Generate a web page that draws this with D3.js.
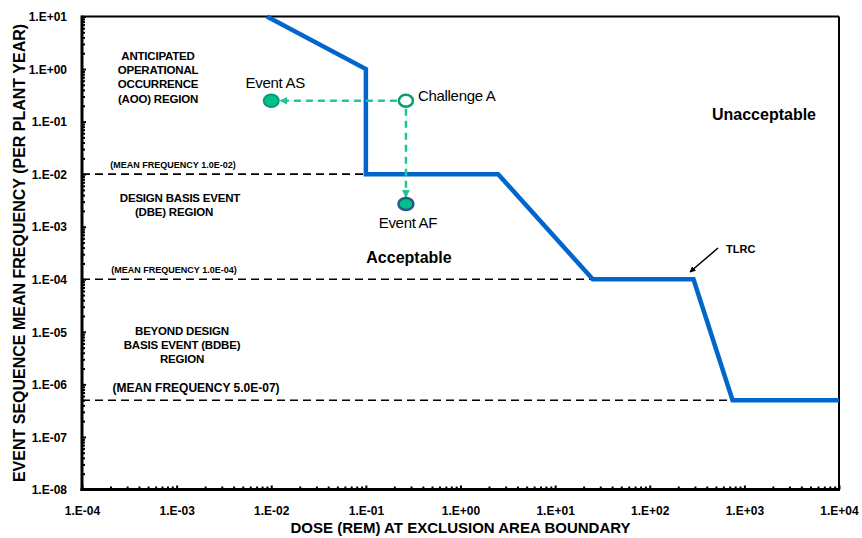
<!DOCTYPE html>
<html>
<head>
<meta charset="utf-8">
<script src="https://cdn.jsdelivr.net/npm/d3@7"></script>
<style>
  html, body { margin: 0; padding: 0; background: #fff; }
  svg { display: block; font-family: "Liberation Sans", Arial, sans-serif; }
</style>
</head>
<body>
<svg id="chart" width="862" height="538"></svg>
<script>
// Axis decades and their labels
const xTickValues = [1e-4, 1e-3, 1e-2, 1e-1, 1e0, 1e1, 1e2, 1e3, 1e4];
const xTickLabels = ["1.E-04", "1.E-03", "1.E-02", "1.E-01", "1.E+00", "1.E+01", "1.E+02", "1.E+03", "1.E+04"];
const yTickValues = [1e1, 1e0, 1e-1, 1e-2, 1e-3, 1e-4, 1e-5, 1e-6, 1e-7, 1e-8];
const yTickLabels = ["1.E+01", "1.E+00", "1.E-01", "1.E-02", "1.E-03", "1.E-04", "1.E-05", "1.E-06", "1.E-07", "1.E-08"];

// Top level regulatory criterion (dose in rem, frequency per plant-year)
const tlrcDose = [0.009, 0.1, 0.1, 2.5, 25, 290, 750, 1e4];
const tlrcFreq = [10, 1, 1e-2, 1e-2, 1e-4, 1e-4, 5e-7, 5e-7];

// Region boundaries (mean frequency) and how far each dashed line runs
const boundaryFreq = [1e-2, 1e-4, 5e-7];
const boundaryEndDose = [0.1, 25, 750];
const boundaryLabels = ["(MEAN FREQUENCY 1.0E-02)", "(MEAN FREQUENCY 1.0E-04)", "(MEAN FREQUENCY 5.0E-07)"];

// Events
const eventNames = ["Event AS", "Challenge A", "Event AF"];
const eventDose = [0.01, 0.265, 0.265];
const eventFreq = [0.25, 0.25, 0.0027];

const svg = d3.select("#chart");
const W = 862, H = 538;
const plotL = 82, plotR = 839, plotT = 16.5, plotB = 489.5;

svg.append("rect").attr("width", W).attr("height", H).attr("fill", "#fff");

const x = d3.scaleLog().domain([1e-4, 1e4]).range([plotL, plotR]);
const y = d3.scaleLog().domain([1e-8, 1e1]).range([plotB, plotT]);

// Minor tick positions (2..9 within each decade)
const minorX = [], minorY = [];
for (let e = -4; e < 4; e++) for (let m = 2; m <= 9; m++) minorX.push(m * Math.pow(10, e));
for (let e = -8; e < 1; e++) for (let m = 2; m <= 9; m++) minorY.push(m * Math.pow(10, e));

const xAxisMinor = d3.axisBottom(x).tickValues(minorX).tickSize(-3).tickFormat("");
const yAxisMinor = d3.axisLeft(y).tickValues(minorY).tickSize(-3).tickFormat("");
const xAxisMajor = d3.axisBottom(x).tickValues(xTickValues).tickSize(-4).tickPadding(17)
  .tickFormat((d, i) => xTickLabels[i]);
const yAxisMajor = d3.axisLeft(y).tickValues(yTickValues).tickSize(-4).tickPadding(15)
  .tickFormat((d, i) => yTickLabels[i]);

function styleAxis(g) {
  g.select(".domain").remove();
  g.selectAll(".tick line").attr("stroke", "#000").attr("stroke-width", 2);
  g.selectAll(".tick text").attr("fill", "#000").attr("font-size", 12).attr("font-weight", "bold")
    .attr("font-family", "Liberation Sans, Arial, sans-serif");
}

svg.append("g").attr("transform", `translate(0,${plotB})`).call(xAxisMinor).call(styleAxis);
svg.append("g").attr("transform", `translate(${plotL},0)`).call(yAxisMinor).call(styleAxis);
svg.append("g").attr("transform", `translate(0,${plotB})`).call(xAxisMajor).call(styleAxis);
const gy = svg.append("g").attr("transform", `translate(${plotL},0)`).call(yAxisMajor).call(styleAxis);
gy.selectAll(".tick text").attr("dy", "0.35em");

// Plot frame
svg.append("line").attr("x1", plotL).attr("x2", plotR).attr("y1", plotT).attr("y2", plotT)
  .attr("stroke", "#000").attr("stroke-width", 2);
svg.append("line").attr("x1", plotR).attr("x2", plotR).attr("y1", plotT).attr("y2", plotB)
  .attr("stroke", "#000").attr("stroke-width", 2);
svg.append("line").attr("x1", plotL).attr("x2", plotL).attr("y1", plotT - 1).attr("y2", plotB + 1.5)
  .attr("stroke", "#000").attr("stroke-width", 3);
svg.append("line").attr("x1", plotL - 1.5).attr("x2", plotR + 1).attr("y1", plotB).attr("y2", plotB)
  .attr("stroke", "#000").attr("stroke-width", 3);

// Axis titles
svg.append("text").attr("x", (plotL + plotR) / 2).attr("y", 533).attr("text-anchor", "middle")
  .attr("font-size", 15).attr("font-weight", "bold").text("DOSE (REM) AT EXCLUSION AREA BOUNDARY");
svg.append("text").attr("transform", `translate(25,${(plotT + plotB) / 2}) rotate(-90)`)
  .attr("text-anchor", "middle").attr("font-size", 16).attr("font-weight", "bold")
  .text("EVENT SEQUENCE MEAN FREQUENCY (PER PLANT YEAR)");

// Dashed region boundaries
boundaryFreq.forEach((f, i) => {
  svg.append("line")
    .attr("x1", x(1e-4)).attr("x2", x(boundaryEndDose[i]))
    .attr("y1", y(f)).attr("y2", y(f))
    .attr("stroke", "#000").attr("stroke-width", 1.6).attr("stroke-dasharray", "8,5");
});

// Region labels
svg.append("text").attr("x", 173).attr("y", y(boundaryFreq[0]) - 6).attr("text-anchor", "middle")
  .attr("font-size", 9).attr("font-weight", "bold").text(boundaryLabels[0]);
svg.append("text").attr("x", 174).attr("y", y(boundaryFreq[1]) - 6).attr("text-anchor", "middle")
  .attr("font-size", 9).attr("font-weight", "bold").text(boundaryLabels[1]);
svg.append("text").attr("x", 196).attr("y", 392).attr("text-anchor", "middle")
  .attr("font-size", 12).attr("font-weight", "bold").text(boundaryLabels[2]);

function block(lines, cx, y0, dy) {
  lines.forEach((t, i) => {
    svg.append("text").attr("x", cx).attr("y", y0 + i * dy).attr("text-anchor", "middle")
      .attr("font-size", 11.5).attr("font-weight", "bold").attr("letter-spacing", -0.2).text(t);
  });
}
block(["ANTICIPATED", "OPERATIONAL", "OCCURRENCE", "(AOO) REGION"], 158, 60, 14.2);
svg.append("text").attr("x", 180).attr("y", 202).attr("text-anchor", "middle")
  .attr("font-size", 11.5).attr("font-weight", "bold").attr("letter-spacing", -0.2).text("DESIGN BASIS EVENT");
svg.append("text").attr("x", 174).attr("y", 216).attr("text-anchor", "middle")
  .attr("font-size", 11.5).attr("font-weight", "bold").attr("letter-spacing", -0.2).text("(DBE) REGION");
block(["BEYOND DESIGN", "BASIS EVENT (BDBE)", "REGION"], 182, 335, 14.2);

// TLRC curve
const line = d3.line().x(d => x(d[0])).y(d => y(d[1]));
svg.append("path")
  .datum(tlrcDose.map((d, i) => [d, tlrcFreq[i]]))
  .attr("d", line).attr("fill", "none").attr("stroke", "#0066CC")
  .attr("stroke-width", 4.5).attr("stroke-linejoin", "miter");

svg.append("text").attr("x", 409).attr("y", 263).attr("text-anchor", "middle")
  .attr("font-size", 16).attr("font-weight", "bold").text("Acceptable");
svg.append("text").attr("x", 764).attr("y", 120).attr("text-anchor", "middle")
  .attr("font-size", 16).attr("font-weight", "bold").text("Unacceptable");

// Arrowheads
const defs = svg.append("defs");
defs.append("marker").attr("id", "blackHead").attr("viewBox", "0 0 10 10")
  .attr("refX", 9).attr("refY", 5).attr("markerWidth", 6).attr("markerHeight", 6)
  .attr("markerUnits", "userSpaceOnUse").attr("orient", "auto")
  .append("path").attr("d", "M0,0 L10,5 L0,10 Z").attr("fill", "#000");
defs.append("marker").attr("id", "greenHead").attr("viewBox", "0 0 10 10")
  .attr("refX", 9).attr("refY", 5).attr("markerWidth", 8).attr("markerHeight", 8)
  .attr("markerUnits", "userSpaceOnUse").attr("orient", "auto")
  .append("path").attr("d", "M0,0 L10,5 L0,10 Z").attr("fill", "#1FC796");

// TLRC callout
svg.append("line").attr("x1", 718).attr("y1", 248).attr("x2", 690).attr("y2", 272)
  .attr("stroke", "#000").attr("stroke-width", 1.5).attr("marker-end", "url(#blackHead)");
svg.append("text").attr("x", 726).attr("y", 253).attr("font-size", 11).attr("font-weight", "bold").text("TLRC");

// Event transitions from Challenge A
const green = "#1FC796";
const cA = [x(eventDose[1]), y(eventFreq[1])];
const eAS = [x(eventDose[0]), y(eventFreq[0])];
const eAF = [x(eventDose[2]), y(eventFreq[2])];
svg.append("line").attr("x1", cA[0] - 9).attr("y1", cA[1]).attr("x2", eAS[0] + 9).attr("y2", eAS[1])
  .attr("stroke", green).attr("stroke-width", 2.5).attr("stroke-dasharray", "7,5")
  .attr("marker-end", "url(#greenHead)");
svg.append("line").attr("x1", cA[0]).attr("y1", cA[1] + 8).attr("x2", eAF[0]).attr("y2", eAF[1] - 7)
  .attr("stroke", green).attr("stroke-width", 2.5).attr("stroke-dasharray", "7,5")
  .attr("marker-end", "url(#greenHead)");

// Event markers
svg.append("ellipse").attr("cx", eAS[0]).attr("cy", eAS[1]).attr("rx", 7.5).attr("ry", 6.3)
  .attr("fill", "#00C08B").attr("stroke", "#0A9C70").attr("stroke-width", 2);
svg.append("ellipse").attr("cx", cA[0]).attr("cy", cA[1]).attr("rx", 7).attr("ry", 6)
  .attr("fill", "#fff").attr("stroke", "#0A9E6E").attr("stroke-width", 2.5);
svg.append("ellipse").attr("cx", eAF[0]).attr("cy", eAF[1]).attr("rx", 7.5).attr("ry", 6)
  .attr("fill", "#00C08B").attr("stroke", "#2E5A88").attr("stroke-width", 2.5);

// Event labels
svg.append("text").attr("x", eAS[0] + 4).attr("y", eAS[1] - 13).attr("text-anchor", "middle")
  .attr("font-size", 15).attr("letter-spacing", -0.3).text(eventNames[0]);
svg.append("text").attr("x", cA[0] + 12).attr("y", cA[1]).attr("text-anchor", "start")
  .attr("font-size", 15).attr("letter-spacing", -0.3).text(eventNames[1]);
svg.append("text").attr("x", eAF[0] + 2).attr("y", eAF[1] + 24).attr("text-anchor", "middle")
  .attr("font-size", 15).attr("letter-spacing", -0.3).text(eventNames[2]);
</script>
</body>
</html>
